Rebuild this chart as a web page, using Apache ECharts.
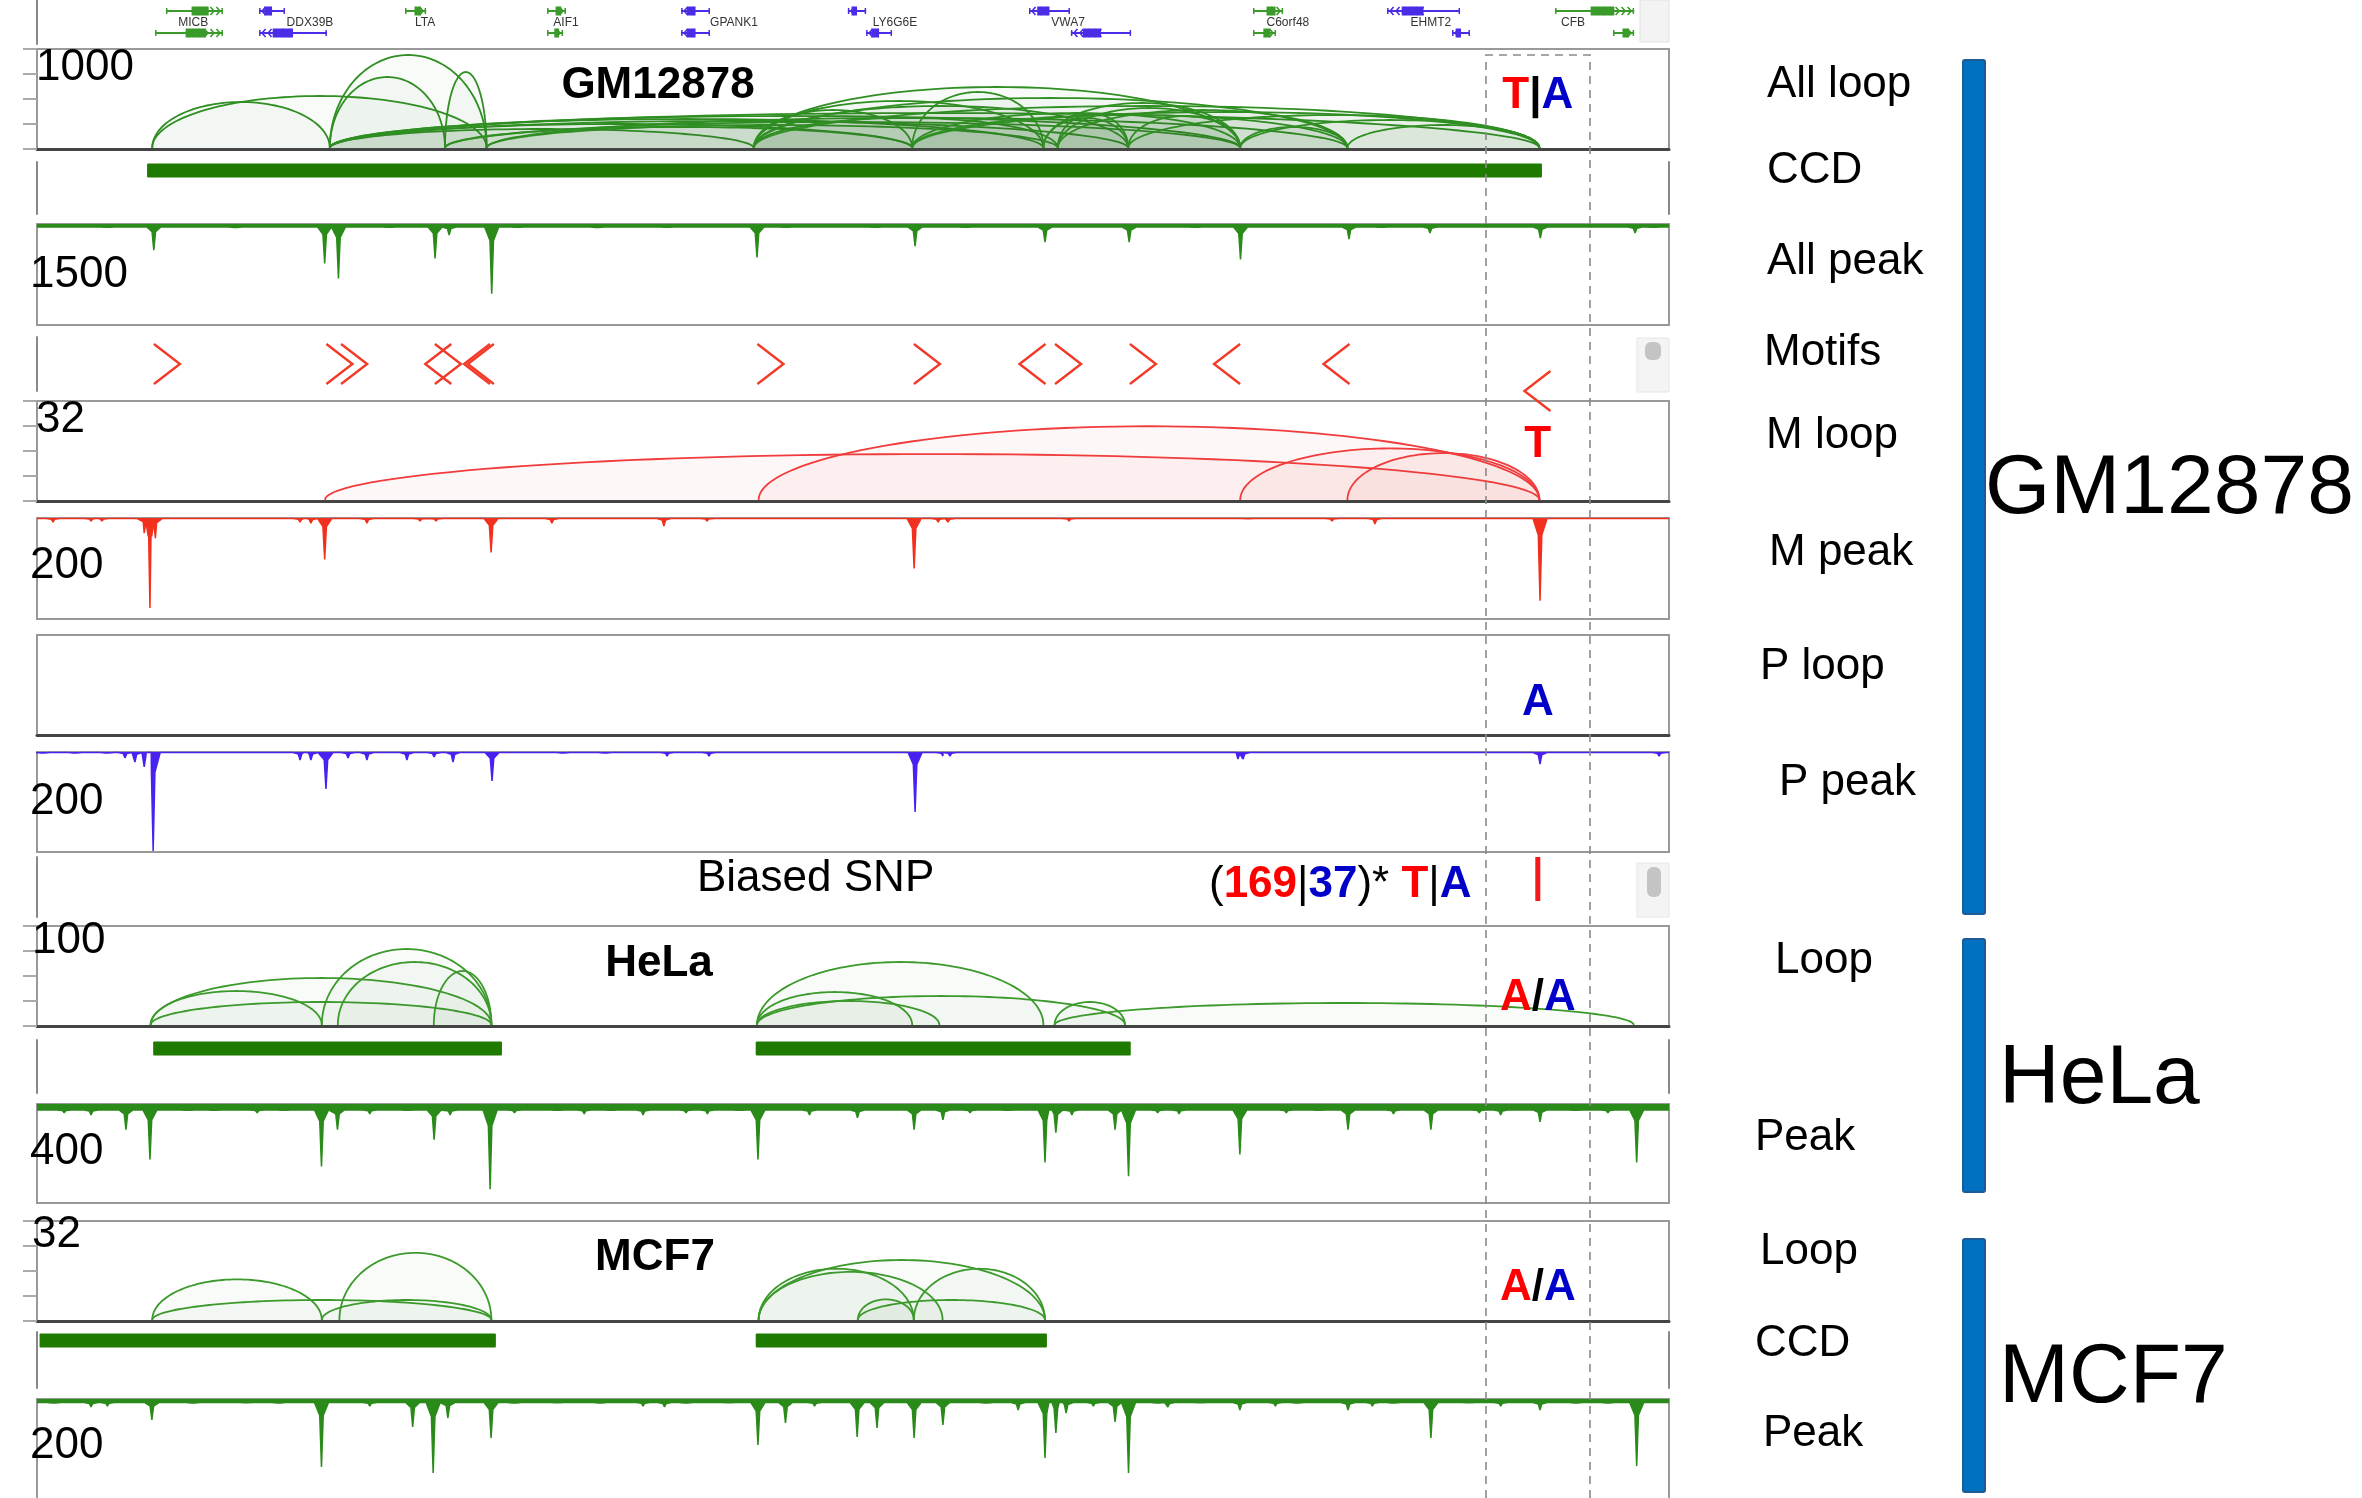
<!DOCTYPE html>
<html><head><meta charset="utf-8">
<script src="https://cdn.jsdelivr.net/npm/echarts@6/dist/echarts.min.js"></script>
<style>html,body{margin:0;padding:0;background:#fff}#c{width:2362px;height:1498px}</style>
</head><body><div id="c"></div>
<script>
// ---------------- DATA (x in kb from region start) ----------------
const regionKb = [0, 510];
const snpKb = 469;
const snpWindowKb = [452.8, 485.3];

const geneLabels = [['MICB',48.8],['DDX39B',85.3],['LTA',121.3],['AIF1',165.3],['GPANK1',217.8],['LY6G6E',268.1],['VWA7',322.2],['C6orf48',390.9],['EHMT2',435.6],['CFB',480]];
// [start, end, strand(+1/-1), row(1 top, 0 bottom)]
const geneModels = [
  [40.3,58.1,1,1],[69.4,77.5,-1,1],[115,121.6,1,1],[159.4,165.3,1,1],[201.3,210.3,-1,1],
  [253.4,259.1,-1,1],[310,322.8,-1,1],[380,389.4,1,1],[421.9,444.7,-1,1],[474.4,499.1,1,1],
  [36.9,58.1,1,0],[69.4,90.6,-1,0],[159.4,164.4,1,0],[201.3,210.3,-1,0],[259.1,267.2,-1,0],
  [323.1,341.9,-1,0],[380,387.2,1,0],[442.2,447.8,-1,0],[492.5,499.1,1,0]
];

// loop arcs: [anchor1, anchor2, PET count]
const allLoopMax = 1000;
const allLoops = [
  [36,91.5,460],[36,140.5,520],[91.5,127.5,710],[91.5,140.5,930],[127.5,140.5,760],
  [91.5,224,190],[91.5,273.5,240],[91.5,314.5,290],[91.5,341,270],[91.5,376,320],[91.5,469.5,350],
  [127.5,273.5,210],[127.5,376,260],[140.5,319,230],[140.5,409.5,300],
  [224,273.5,380],[224,314.5,470],[224,319,300],[224,341,420],[224,376,610],[224,409.5,500],[224,469.5,420],
  [273.5,314.5,560],[273.5,376,350],[273.5,409.5,330],[273.5,469.5,360],
  [314.5,341,300],[314.5,376,450],[319,341,340],[319,376,400],[319,409.5,380],
  [341,376,320],[341,469.5,330],[376,409.5,210],[376,469.5,280],[409.5,469.5,230]
];
const mLoopMax = 32;
const mLoops = [[90,469.5,14.7],[225.5,469.5,23.6],[376,469.5,16.5],[409.5,469.5,15.0]];
const pLoopMax = 32;
const pLoops = [];
const helaLoopMax = 100;
const helaLoops = [
  [35.5,142,47],[35.5,89,34],[35.5,142,23],[89,142,76],[94,142,63],[124,142,54],
  [225,314.5,63],[225,273.5,33],[225,282,24],[225,340,29],[318,340,23],[318,499,22]
];
const mcfLoopMax = 32;
const mcfLoops = [
  [36,89,13.0],[36,142,6.4],[94.5,142,21.5],[89,142,6.4],[225.5,315,19.2],
  [225.5,274,16.4],[274,315,16.4],[256.5,274,6.6],[256.5,315,6.4],[225.5,283,15.4]
];

// CCD domains [start, end]
const allCCD = [[34.4,470.3]];
const helaCCD = [[36.3,145.3],[224.6,341.8]];
const mcfCCD = [[0.8,143.4],[224.6,315.6]];

// CTCF motifs [position, orientation (+1 '>' / -1 '<'), row]
const motifs = [
  [40.6,1,1],[94.5,1,1],[99.1,1,1],[125.4,-1,1],[128.4,1,1],[137.5,-1,1],[138.7,-1,1],
  [229.2,1,1],[278.1,1,1],[311.1,-1,1],[322.2,1,1],[345.6,1,1],[371.9,-1,1],[406.1,-1,1],[468.9,-1,0]
];

// peaks [position, signal]
const allPeakMax = 1500, allPeakFloor = 45;
const allPeaks = [[36.5,390],[89.9,585],[94.2,810],[124.4,510],[128.8,165],[142.1,1035],[196.9,60],[225,495],[234,60],
  [274.4,330],[315,270],[341.3,270],[376.1,525],[410,225],[435.3,135],[469.8,210],[499.4,135],
  [10,45],[22,60],[55,45],[62,75],[110,60],[150,60],[160,45],[175,75],[185,45],[210,45],[255,50],[262,60],
  [290,60],[300,45],[330,50],[355,50],[362,60],[390,45],[420,60],[450,40],[480,45],[505,60]];
const mPeakMax = 200, mPeakFloor = 1;
const mPeaks = [[33.5,30],[35.3,178],[37,40],[89.9,82],[141.9,68],[274.1,100],[469.7,164],[5,8],[16.9,6],[20.3,6],
  [82.2,8],[85.6,10],[103.1,10],[119.7,6],[124.7,6],[160.9,10],[195.9,16],[209.4,6],[281.6,8],[284.7,8],
  [322.5,6],[378.4,4],[404.7,6],[418.1,12]];
const pPeakMax = 200, pPeakFloor = 1;
const pPeaks = [[36.3,198],[90.3,74],[142.2,58],[274.4,120],[469.7,24],[1.9,6],[11.9,6],[21.9,6],[27.5,12],[30.6,20],
  [33.5,30],[82.2,16],[85.6,16],[97.2,12],[103.1,16],[115.6,16],[124.1,10],[130,20],[164.4,6],[177.5,6],
  [196.9,8],[210,8],[283.1,8],[285.3,8],[375.3,14],[376.9,14],[506.9,8]];
const helaPeakMax = 400, helaPeakFloor = 24;
const helaPeaks = [[27.8,104],[35.3,224],[88.9,252],[93.9,104],[124.1,144],[141.6,344],[225.3,224],[274.1,104],
  [283.1,64],[315,236],[318.4,116],[336.9,104],[341.1,292],[375.9,204],[409.7,104],[435.6,104],[469.7,72],[499.9,236],
  [8.5,36],[16.9,44],[47.1,32],[55.4,28],[68.8,36],[77.2,28],[104,40],[115.7,32],[129.1,44],[149.2,36],[162.6,28],
  [171,40],[179.4,32],[189.4,44],[202.8,36],[209.5,40],[219.6,32],[241.4,44],[256.4,56],[291.6,36],[303.3,32],
  [323.4,44],[350.2,36],[356.9,40],[390.4,36],[400.5,32],[423.9,40],[450.7,36],[457.4,44],[480.9,32],[490.9,36]];
const mcfPeakMax = 200, mcfPeakFloor = 7;
const mcfPeaks = [[16.9,16],[35.9,42],[88.9,136],[117.4,56],[123.8,148],[128.4,38],[141.9,78],[196.1,16],[225.3,92],
  [233.9,48],[256.3,76],[262.5,58],[274.1,78],[283.1,52],[306.6,22],[315,118],[318.4,68],[321.6,28],[336.9,46],
  [341.1,148],[353.4,16],[375.9,22],[409.7,22],[435.6,78],[469.7,22],[499.9,134],
  [5.2,12],[22,14],[48.7,12],[65.5,10],[75.5,12],[104,14],[149.2,12],[162.6,10],[176,12],[189.4,14],[202.8,12],
  [216.2,10],[243,14],[296.6,12],[330.1,14],[350.2,12],[363.6,10],[387,14],[393.8,12],[417.3,14],[423.9,12],
  [447.4,10],[457.4,14],[480.9,12],[490.9,12]];

const trackNames = [['All loop',1767,85],['CCD',1767,171],['All peak',1767,262],['Motifs',1764,353],['M loop',1766,436],
  ['M peak',1769,553],['P loop',1760,667],['P peak',1779,783],['Loop',1775,961],['Peak',1755,1138],['Loop',1760,1252],
  ['CCD',1755,1344],['Peak',1763,1434]];
const cellGroups = [['GM12878',60,914,1985,490],['HeLa',939,1192,1999,1080],['MCF7',1239,1492,1999,1379]];

// ---------------- LAYOUT ----------------
const FONT = '"Liberation Sans", Arial, sans-serif';
const LEFT = 37, WIDTH = 1632;
const GREEN = '#2a8a1a', RED = '#ff0000', BLUE = '#0000c8';
// kind, top, height
const tracks = [
  ['gene',0,44],['loop',49,100],['ccd',162,52],['peak',224,101],['motif',337,54],['loop',401,100],
  ['peak',518,101],['loop',635,100],['peak',752,100],['snp',857,60],['loop',926,100],['ccd',1040,53],
  ['peak',1104,99],['loop',1221,100],['ccd',1332,56],['peak',1399,100],['overlay',55,1443]
];

const grids = [], xAxes = [], yAxes = [], series = [];
tracks.forEach((t, i) => {
  const kind = t[0];
  const boxed = kind === 'loop' || kind === 'peak';
  grids.push({left: LEFT, width: WIDTH, top: t[1], height: t[2], show: boxed, borderColor: '#999', borderWidth: 2,
    backgroundColor: 'transparent', outerBoundsMode: 'none'});
  xAxes.push({gridIndex: i, type: 'value', min: regionKb[0], max: regionKb[1], show: kind === 'loop',
    axisLine: {show: true, onZero: false, lineStyle: {color: '#444', width: 3}},
    axisTick: {show: false}, axisLabel: {show: false}, splitLine: {show: false}});
});
function addY(gi, cfg) { yAxes.push(Object.assign({gridIndex: gi, type: 'value', splitLine: {show: false},
  axisLabel: {show: false}, axisTick: {show: false}}, cfg)); return yAxes.length - 1; }
const sideLine = {show: true, lineStyle: {color: '#888', width: 2}};

// ---------------- RENDERERS ----------------
function arcRender(stroke, fill) {
  return function (params, api) {
    const s = api.value(0), e = api.value(1), v = api.value(2);
    const a = api.coord([s, 0]), b = api.coord([e, 0]), t = api.coord([(s + e) / 2, v]);
    const cx = (a[0] + b[0]) / 2, rx = (b[0] - a[0]) / 2, ry = a[1] - t[1], y0 = a[1] - 1;
    const pts = [];
    for (let k = 0; k <= 72; k++) { const th = Math.PI - Math.PI * k / 72; pts.push([cx + rx * Math.cos(th), y0 - ry * Math.sin(th)]); }
    return {type: 'group', children: [
      {type: 'polygon', shape: {points: pts}, style: {fill: fill}},
      {type: 'polyline', shape: {points: pts}, style: {stroke: stroke, lineWidth: 1.8, fill: 'none'}}
    ]};
  };
}
function ccdRender(params, api) {
  const a = api.coord([api.value(0), 1]), b = api.coord([api.value(1), 1]);
  return {type: 'rect', shape: {x: a[0], y: a[1] + 1.5, width: b[0] - a[0], height: 14, r: 1}, style: {fill: '#1f7a00'}};
}

function addLoop(gi, max, arcs, stroke, fill, ticks) {
  const yi = addY(gi, {min: 0, max: max, interval: max / 4, axisLine: {show: false},
    axisTick: {show: ticks !== false, length: 14, lineStyle: {color: '#aaa', width: 2}}});
  series.push({type: 'custom', xAxisIndex: gi, yAxisIndex: yi, encode: {x: [0, 1], y: 2}, data: arcs,
    renderItem: arcRender(stroke, fill), z: 3, silent: true});
}
// coverage profile: each listed peak becomes a narrow spike hanging from the track top
function addPeak(gi, max, floor, peaks, color) {
  const yi = addY(gi, {min: 0, max: max, inverse: true, show: false});
  const pts = [[regionKb[0], floor], [regionKb[1], floor]];
  peaks.forEach(p => {
    const d = Math.max(p[1], floor), mid = floor + (d - floor) * 0.2;
    pts.push([p[0] - 2.2, floor], [p[0] - 0.55, mid], [p[0], d], [p[0] + 0.55, mid], [p[0] + 2.2, floor]);
  });
  pts.sort((a, b) => a[0] - b[0]);
  series.push({type: 'line', xAxisIndex: gi, yAxisIndex: yi, data: pts, symbol: 'none', silent: true, z: 3,
    lineStyle: {color: color, width: 1.5}, areaStyle: {color: color, opacity: 1, origin: 'start'}});
}
function addCCD(gi, bars) {
  const yi = addY(gi, {min: 0, max: 1, axisLine: sideLine});
  addY(gi, {min: 0, max: 1, position: 'right', axisLine: sideLine});
  series.push({type: 'custom', xAxisIndex: gi, yAxisIndex: yi, encode: {x: [0, 1]}, data: bars, renderItem: ccdRender, z: 3, silent: true});
}

// gene track (grid 0)
{
  const yi = addY(0, {min: -0.5, max: 1.5, axisLine: sideLine});
  series.push({type: 'custom', xAxisIndex: 0, yAxisIndex: yi, encode: {x: [0, 1]}, data: geneModels, silent: true,
    renderItem: function (params, api) {
      const s = api.value(0), e = api.value(1), dir = api.value(2), row = api.value(3);
      const a = api.coord([s, row]), b = api.coord([e, row]);
      const y = a[1], x1 = a[0], x2 = b[0], w = x2 - x1;
      const col = dir > 0 ? '#3a9a2a' : '#4a2de6';
      const ch = [{type: 'rect', shape: {x: x1, y: y - 1, width: w, height: 2}, style: {fill: col}},
        {type: 'rect', shape: {x: x1, y: y - 3, width: 1.5, height: 6}, style: {fill: col}},
        {type: 'rect', shape: {x: x2 - 1.5, y: y - 3, width: 1.5, height: 6}, style: {fill: col}}];
      const bx = dir > 0 ? x1 + w * 0.45 : x1 + w * 0.2;
      ch.push({type: 'rect', shape: {x: bx, y: y - 4.5, width: Math.max(3, w * 0.3), height: 9}, style: {fill: col}});
      const n = Math.max(1, Math.floor(w / 12));
      for (let k = 0; k < n; k++) {
        const px = dir > 0 ? x2 - 3 - k * 6 : x1 + 3 + k * 6;
        const d = dir > 0 ? -3.5 : 3.5;
        ch.push({type: 'polyline', shape: {points: [[px + d, y - 4], [px, y], [px + d, y + 4]]}, style: {stroke: col, lineWidth: 1.6, fill: 'none'}});
      }
      return {type: 'group', children: ch};
    }});
  series.push({type: 'custom', xAxisIndex: 0, yAxisIndex: yi, encode: {x: 0}, data: geneLabels.map(g => [g[1], 0.5]), silent: true,
    renderItem: function (params, api) {
      const p = api.coord([api.value(0), api.value(1)]);
      return {type: 'text', x: p[0], y: p[1] + 1, style: {text: geneLabels[params.dataIndex][0], fill: '#333',
        font: '12px ' + FONT, align: 'center', verticalAlign: 'middle'}};
    }});
}
const ARC_G = 'rgba(60,140,60,0.03)';
addLoop(1, allLoopMax, allLoops, '#2f8f22', ARC_G);
addCCD(2, allCCD);
addPeak(3, allPeakMax, allPeakFloor, allPeaks, GREEN);
// motifs (grid 4)
{
  const yi = addY(4, {min: 0, max: 2, axisLine: sideLine});
  series.push({type: 'custom', xAxisIndex: 4, yAxisIndex: yi, encode: {x: 0, y: 2}, data: motifs, silent: true, z: 4,
    renderItem: function (params, api) {
      const c = api.coord([api.value(0), api.value(2)]);
      const d = api.value(1), w = 13, h = 20;
      return {type: 'polyline', shape: {points: [[c[0] - d * w, c[1] - h], [c[0] + d * w, c[1]], [c[0] - d * w, c[1] + h]]},
        style: {stroke: '#f23a28', lineWidth: 2.4, fill: 'none'}};
    }});
}
addLoop(5, mLoopMax, mLoops, '#f03c3c', 'rgba(240,80,80,0.045)');
addPeak(6, mPeakMax, mPeakFloor, mPeaks, '#f2301e');
addLoop(7, pLoopMax, pLoops, '#3c3cf0', 'rgba(80,80,240,0.04)', false);
addPeak(8, pPeakMax, pPeakFloor, pPeaks, '#4a22f0');
// biased SNP (grid 9)
{
  const yi = addY(9, {min: 0, max: 1, axisLine: sideLine});
  series.push({type: 'custom', xAxisIndex: 9, yAxisIndex: yi, encode: {x: 0}, data: [[snpKb]], silent: true,
    renderItem: function (params, api) {
      const p = api.coord([api.value(0), 1]);
      return {type: 'rect', shape: {x: p[0] - 2.5, y: p[1], width: 5, height: 44}, style: {fill: '#f21a1a'}};
    }});
}
addLoop(10, helaLoopMax, helaLoops, '#3c9a2c', ARC_G);
addCCD(11, helaCCD);
addPeak(12, helaPeakMax, helaPeakFloor, helaPeaks, GREEN);
addLoop(13, mcfLoopMax, mcfLoops, '#3c9a2c', ARC_G);
addCCD(14, mcfCCD);
addPeak(15, mcfPeakMax, mcfPeakFloor, mcfPeaks, GREEN);
// overlay dashed SNP window (grid 16)
{
  const yi = addY(16, {min: 0, max: 1, show: false});
  series.push({type: 'custom', xAxisIndex: 16, yAxisIndex: yi, encode: {x: [0, 1]}, data: [snpWindowKb], silent: true, z: 20,
    renderItem: function (params, api) {
      const a = api.coord([api.value(0), 1]), b = api.coord([api.value(1), 0]);
      return {type: 'polyline', shape: {points: [[a[0], b[1]], [a[0], a[1]], [b[0], a[1]], [b[0], b[1]]]},
        style: {stroke: '#8a8a8a', lineWidth: 1.6, lineDash: [8, 6], fill: 'none'}};
    }});
}

const chart = echarts.init(document.getElementById('c'), null, {width: 2362, height: 1498});
chart.setOption({animation: false, backgroundColor: '#fff', grid: grids, xAxis: xAxes, yAxis: yAxes, series: series});

// ---------------- TEXT / ANNOTATIONS ----------------
const snpX = chart.convertToPixel({xAxisIndex: 1}, snpKb);
const g = [];
function txt(text, x, y, size, opts) {
  g.push({type: 'text', x: x, y: y, z: 50, style: Object.assign({text: text, fill: '#000',
    font: (opts && opts.bold ? 'bold ' : '') + size + 'px ' + FONT, align: 'left', verticalAlign: 'middle'}, (opts && opts.style) || {})});
}
// scale labels
const scaleLabels = [[allLoopMax, 36, 68], [allPeakMax, 30, 275], [mLoopMax, 36, 420], [mPeakMax, 30, 566], [pPeakMax, 30, 802],
  [helaLoopMax, 32, 941], [helaPeakMax, 30, 1152], [mcfLoopMax, 32, 1235], [mcfPeakMax, 30, 1446]];
scaleLabels.forEach(s => txt(String(s[0]), s[1], s[2], 44));
// cell names inside panels
txt('GM12878', 658, 86, 44, {bold: true, style: {align: 'center'}});
txt('HeLa', 659, 964, 44, {bold: true, style: {align: 'center'}});
txt('MCF7', 655, 1258, 44, {bold: true, style: {align: 'center'}});
// allele annotations
const rich = {
  r: {fill: RED, fontSize: 44, fontWeight: 'bold', fontFamily: FONT},
  b: {fill: BLUE, fontSize: 44, fontWeight: 'bold', fontFamily: FONT},
  k: {fill: '#000', fontSize: 44, fontFamily: FONT},
  kb: {fill: '#000', fontSize: 44, fontWeight: 'bold', fontFamily: FONT}
};
function richTxt(text, x, y, align) {
  g.push({type: 'text', x: x, y: y, z: 50, style: {text: text, rich: rich, align: align, verticalAlign: 'middle', font: '44px ' + FONT}});
}
richTxt('{r|T}{kb||}{b|A}', snpX, 96, 'center');
richTxt('{r|T}', snpX, 445, 'center');
richTxt('{b|A}', snpX, 703, 'center');
richTxt('{r|A}{kb|/}{b|A}', snpX, 998, 'center');
richTxt('{r|A}{kb|/}{b|A}', snpX, 1288, 'center');
txt('Biased SNP', 697, 879, 44);
richTxt('{k|(}{r|169}{k||}{b|37}{k|)* }{r|T}{k||}{b|A}', 1209, 885, 'left');
// scroll areas of the browser tracks
g.push({type: 'rect', z: 1, shape: {x: 1640, y: 0, width: 29, height: 42}, style: {fill: '#f3f3f3', stroke: '#e2e2e2'}});
g.push({type: 'rect', z: 1, shape: {x: 1637, y: 338, width: 32, height: 54}, style: {fill: '#f4f4f4', stroke: '#e6e6e6'}});
g.push({type: 'rect', z: 2, shape: {x: 1645, y: 342, width: 16, height: 18, r: 6}, style: {fill: '#c4c4c4'}});
g.push({type: 'rect', z: 1, shape: {x: 1637, y: 863, width: 32, height: 54}, style: {fill: '#f4f4f4', stroke: '#e6e6e6'}});
g.push({type: 'rect', z: 2, shape: {x: 1647, y: 867, width: 14, height: 30, r: 6}, style: {fill: '#c4c4c4'}});
// right side track names
trackNames.forEach(t => txt(t[0], t[1], t[2], 44));
// group bars + cell line names
cellGroups.forEach(c => {
  g.push({type: 'rect', z: 5, shape: {x: 1963, y: c[1], width: 22, height: c[2] - c[1], r: 2},
    style: {fill: '#0070c0', stroke: '#1c5b96', lineWidth: 2}});
  txt(c[0], c[3], c[4], 84);
});
chart.setOption({graphic: g});
</script>
</body></html>
